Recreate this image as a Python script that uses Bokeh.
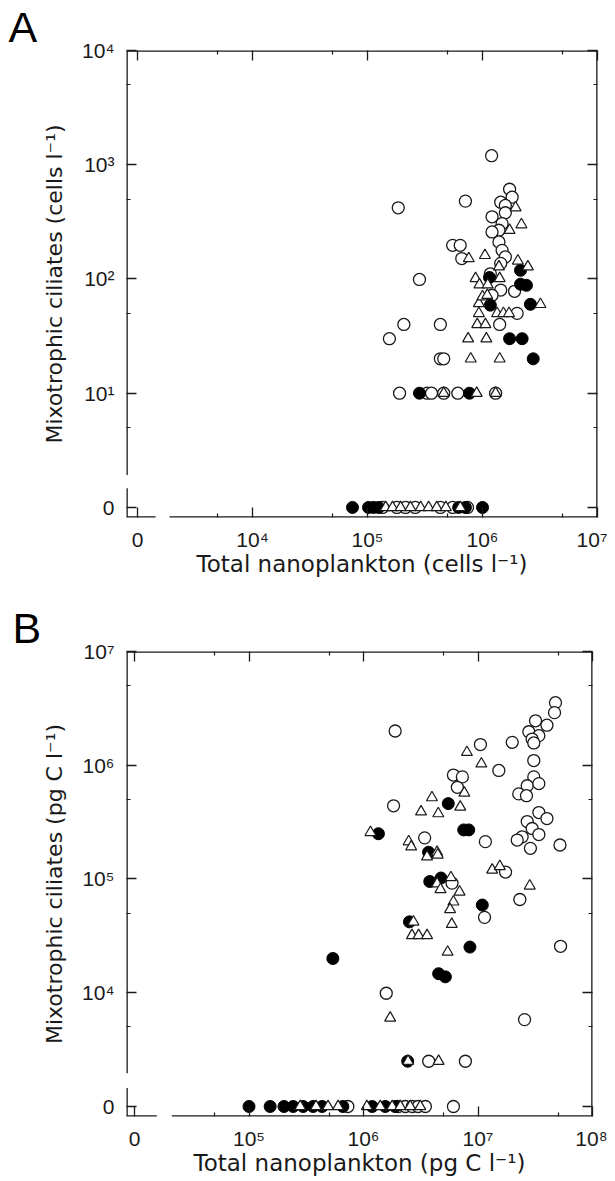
import numpy as np
from bokeh.plotting import figure
from bokeh.layouts import column
from bokeh.models import FixedTicker, LinearAxis, Range1d
from bokeh.embed import file_html
from bokeh.resources import INLINE

# ---------------- Panel A : abundance (cells l^-1) ----------------
a_open_x = [1.2e6, 1.72e6, 1.81e6, 7.1e5, 1.85e5, 1.44e6, 1.58e6, 1.58e6, 1.21e6, 1.48e6,
            1.39e6, 1.21e6, 1.39e6, 1.48e6, 5.5e5, 6.4e5, 6.6e5, 1.58e6, 1.44e6, 1.17e6,
            1.44e6, 1.9e6, 2.0e6, 1.41e6, 4.3e5, 1.21e6, 2.83e5, 2.07e5, 1.55e5, 4.3e5, 4.6e5,
            1.9e5, 3.3e5, 3.6e5, 4.6e5, 6.1e5, 1.3e6,
            1.35e5, 1.8e5, 2.14e5, 2.6e5, 4.3e5, 5.5e5, 7.4e5]
a_open_y = [1200, 610, 520, 480, 420, 470, 440, 380, 350, 305,
            267, 258, 211, 178, 197, 197, 151, 156, 137, 111,
            80, 78, 50, 40, 40, 72, 99, 40, 30, 20, 20,
            10, 10, 10, 10, 10, 10,
            0, 0, 0, 0, 0, 0, 0]
a_tri_x = [1.94e6, 2.18e6, 1.72e6, 7.6e5, 1.05e6, 2.03e6, 2.48e6, 1.39e6, 8.7e5, 9.4e5,
           1.11e6, 1.41e6, 9.3e5, 1.0e6, 1.1e6, 3.19e6, 9.3e5, 1.34e6, 1.52e6, 1.7e6,
           9.0e5, 1.06e6, 7.5e5, 1.08e6, 7.9e5, 1.41e6,
           4.6e5, 8.9e5, 1.3e6,
           1.44e5, 1.65e5, 1.94e5, 2.36e5, 2.9e5, 3.4e5, 4.0e5, 4.8e5, 6.4e5]
a_tri_y = [421, 299, 267, 151, 161, 144, 128, 128, 101, 89,
           89, 101, 61, 70, 72, 60, 50, 50, 50, 50,
           40, 40, 30, 30, 20, 20,
           10, 10, 10,
           0, 0, 0, 0, 0, 0, 0, 0, 0]
a_fill_x = [1.15e6, 2.14e6, 2.14e6, 2.41e6, 1.17e6, 2.61e6, 1.72e6, 2.21e6, 2.76e6,
            2.83e5, 7.7e5,
            7.4e4, 1.02e5, 1.13e5, 1.25e5, 6.2e5, 7.1e5, 1.0e6]
a_fill_y = [103, 119, 90, 88, 59, 60, 30, 30, 20,
            10, 10,
            0, 0, 0, 0, 0, 0, 0]

# ---------------- Panel B : biomass (pg C l^-1) ----------------
b_open_x = [4.75e7, 4.66e7, 3.18e7, 4.0e7, 2.78e7, 3.4e7, 2.97e7, 3.07e7, 1.99e7, 1.05e7,
            1.89e6, 3.07e7, 1.52e7, 3.07e7, 2.69e7, 3.4e7, 2.27e7, 2.65e7, 6.1e6, 7.3e6,
            6.6e6, 1.83e6, 3.4e7, 4.0e7, 2.69e7, 2.97e7, 3.4e7, 2.43e7, 2.2e7, 2.87e7,
            5.2e7, 1.16e7, 3.42e6, 1.74e7, 2.32e7, 5.93e6, 1.14e7, 5.26e7, 1.58e6, 2.55e7,
            3.71e6, 7.76e6,
            7.3e5, 2.01e6, 2.32e6, 2.67e6, 3.0e6, 3.47e6, 6.1e6]
b_open_y = [3.55e6, 2.9e6, 2.46e6, 2.25e6, 1.97e6, 1.82e6, 1.7e6, 1.57e6, 1.59e6, 1.52e6,
            2.0e6, 1.1e6, 9.0e5, 7.9e5, 6.6e5, 6.9e5, 5.6e5, 5.4e5, 8.2e5, 7.9e5,
            6.4e5, 4.4e5, 3.84e5, 3.4e5, 3.2e5, 2.78e5, 2.46e5, 2.35e5, 2.2e5, 1.86e5,
            1.99e5, 2.13e5, 2.3e5, 1.15e5, 6.6e4, 9.2e4, 4.6e4, 2.56e4, 9.9e3, 5.8e3,
            2.5e3, 2.5e3,
            0, 0, 0, 0, 0, 0, 0]
b_tri_x = [8.0e6, 1.07e7, 7.6e6, 3.96e6, 7.0e6, 3.18e6, 4.5e6, 1.15e6, 2.48e6, 2.61e6,
           4.39e6, 3.59e6, 4.45e6, 1.33e7, 1.55e7, 2.83e7, 4.39e6, 5.8e6, 4.7e6, 6.9e6,
           6.1e6, 5.7e6, 5.9e6, 2.73e6, 2.65e6, 3.03e6, 3.59e6, 5.43e6, 1.71e6, 2.45e6,
           4.53e6,
           2.8e5, 3.85e5, 4.9e5, 6.0e5, 1.07e6, 1.4e6, 1.78e6, 2.1e6, 2.56e6, 3.13e6]
b_tri_y = [1.3e6, 1.03e6, 5.7e5, 5.2e5, 4.3e5, 3.9e5, 3.76e5, 2.57e5, 2.13e5, 1.92e5,
           1.72e5, 1.57e5, 1.63e5, 1.2e5, 1.29e5, 8.7e4, 9.1e4, 1.03e5, 8.1e4, 7.7e4,
           6.3e4, 5.4e4, 4.0e4, 4.2e4, 3.19e4, 3.19e4, 3.19e4, 2.28e4, 6.0e3, 2.5e3,
           2.5e3,
           0, 0, 0, 0, 0, 0, 0, 0, 0, 0]
b_fill_x = [5.5e6, 1.35e6, 7.5e6, 8.3e6, 3.7e6, 3.79e6, 4.75e6, 1.09e7, 2.52e6, 8.5e6,
            5.4e5, 4.53e6, 5.19e6, 2.43e6,
            1.0e5, 1.53e5, 2.02e5, 2.43e5, 2.97e5, 3.63e5, 4.35e5, 6.6e5, 1.19e6, 1.55e6, 1.89e6]
b_fill_y = [4.6e5, 2.5e5, 2.7e5, 2.7e5, 1.72e5, 9.5e4, 1.02e5, 5.9e4, 4.2e4, 2.52e4,
            2.0e4, 1.47e4, 1.38e4, 2.5e3,
            0, 0, 0, 0, 0, 0, 0, 0, 0, 0, 0]

# ---------------- axis ticks / labels ----------------
a_x_ticks = [3, 4, 5, 6, 7]
a_x_labels = ["0", "10\u2074", "10\u2075", "10\u2076", "10\u2077"]
a_y_ticks = [0, 1, 2, 3, 4]
a_y_labels = ["0", "10\u00b9", "10\u00b2", "10\u00b3", "10\u2074"]
b_x_ticks = [4, 5, 6, 7, 8]
b_x_labels = ["0", "10\u2075", "10\u2076", "10\u2077", "10\u2078"]
b_y_ticks = [3, 4, 5, 6, 7]
b_y_labels = ["0", "10\u2074", "10\u2075", "10\u2076", "10\u2077"]

a_x_title = "Total nanoplankton (cells l\u207b\u00b9)"
a_y_title = "Mixotrophic ciliates (cells l\u207b\u00b9)"
b_x_title = "Total nanoplankton (pg C l\u207b\u00b9)"
b_y_title = "Mixotrophic ciliates (pg C l\u207b\u00b9)"

FONT_TICK = "Liberation Sans"
FONT_TITLE = "DejaVu Sans"
INK = "#1a1a1a"


def log_pos(vals, zero_pos):
    v = np.asarray(vals, dtype=float)
    out = np.full(v.shape, float(zero_pos))
    m = v > 0
    out[m] = np.log10(v[m])
    return out


def style_axis(ax, ticks, labels, show):
    minor = [t + np.log10(5) for t in ticks[:-1]]
    ax.ticker = FixedTicker(ticks=list(ticks), minor_ticks=minor)
    ax.axis_line_color = None
    ax.major_tick_in = 10
    ax.major_tick_out = 0
    ax.minor_tick_in = 4
    ax.minor_tick_out = 0
    ax.major_tick_line_color = INK
    ax.minor_tick_line_color = INK
    ax.major_tick_line_width = 1.3
    ax.minor_tick_line_width = 1.2
    if show:
        ax.major_label_overrides = {t: lab for t, lab in zip(ticks, labels)}
        ax.major_label_text_font = FONT_TICK
        ax.major_label_text_font_size = "21px"
        ax.major_label_text_color = INK
    else:
        ax.major_label_overrides = {t: "" for t in ticks}
        ax.major_label_text_font_size = "0px"
        ax.major_label_standoff = 0


def make_panel(letter, letter_offset, xr, yr, xbreak, ybreak, zeros,
               xticks, xlabels, yticks, ylabels, xtitle, ytitle,
               opens, tris, fills, fw, fh, borders):
    bl, bt, br, bb = borders
    p = figure(frame_width=fw, frame_height=fh,
               x_range=Range1d(*xr), y_range=Range1d(*yr),
               output_backend="svg", toolbar_location=None,
               min_border_left=bl, min_border_top=bt,
               min_border_right=br, min_border_bottom=bb)
    p.grid.visible = False
    p.outline_line_color = None
    p.background_fill_color = "white"
    p.border_fill_color = "white"

    # panel letter as the figure title
    p.title.text = letter
    p.title.text_font = FONT_TICK
    p.title.text_font_size = "43px"
    p.title.text_font_style = "normal"
    p.title.text_color = "black"
    p.title.align = "left"
    p.title.offset = letter_offset
    p.title.standoff = 0

    xb = p.xaxis[0]
    yl = p.yaxis[0]
    xt = LinearAxis()
    yr_ax = LinearAxis()
    p.add_layout(xt, "above")
    p.add_layout(yr_ax, "right")
    style_axis(xb, xticks, xlabels, True)
    style_axis(yl, yticks, ylabels, True)
    style_axis(xt, xticks, xlabels, False)
    style_axis(yr_ax, yticks, ylabels, False)
    xb.major_label_standoff = 10
    yl.major_label_standoff = 12

    for ax, title, stand, size in ((xb, xtitle, -3, "23px"), (yl, ytitle, 12, "22px")):
        ax.axis_label = title
        ax.axis_label_text_font = FONT_TITLE
        ax.axis_label_text_font_size = size
        ax.axis_label_text_font_style = "normal"
        ax.axis_label_text_color = INK
        ax.axis_label_standoff = stand

    # frame with broken axes
    x0, x1 = xr
    y0, y1 = yr
    p.segment(x0=[x0, x0, x0, xbreak[1], x0, x1],
              y0=[y0, ybreak[1], y0, y0, y1, y0],
              x1=[x0, x0, xbreak[0], x1, x1, x1],
              y1=[ybreak[0], y1, y0, y0, y1, y1],
              line_width=2.6, line_color=INK)

    zx, zy = zeros
    p.scatter(log_pos(opens[0], zx), log_pos(opens[1], zy), marker="circle", size=12,
              fill_color="white", line_color=INK, line_width=1.3)
    p.scatter(log_pos(fills[0], zx), log_pos(fills[1], zy), marker="circle", size=12,
              fill_color="black", line_color="black", line_width=1.0)
    p.scatter(log_pos(tris[0], zx), log_pos(tris[1], zy), marker="triangle", size=11,
              fill_color="white", line_color=INK, line_width=1.2)
    return p


pA = make_panel("A", -118, (2.904, 7.0), (-0.088, 4.0), (3.157, 3.278), (0.169, 0.283),
                (3, 0), a_x_ticks, a_x_labels, a_y_ticks, a_y_labels, a_x_title, a_y_title,
                (a_open_x, a_open_y), (a_tri_x, a_tri_y), (a_fill_x, a_fill_y),
                471, 467, (126, 50, 10, 73))
pB = make_panel("B", -114, (3.93, 8.0), (2.912, 7.0), (4.195, 4.326), (3.162, 3.293),
                (4, 3), b_x_ticks, b_x_labels, b_y_ticks, b_y_labels, b_x_title, b_y_title,
                (b_open_x, b_open_y), (b_tri_x, b_tri_y), (b_fill_x, b_fill_y),
                466, 465, (126, 61, 15, 58))

layout = column(pA, pB)
open("out.html", "w").write(file_html(layout, INLINE))
